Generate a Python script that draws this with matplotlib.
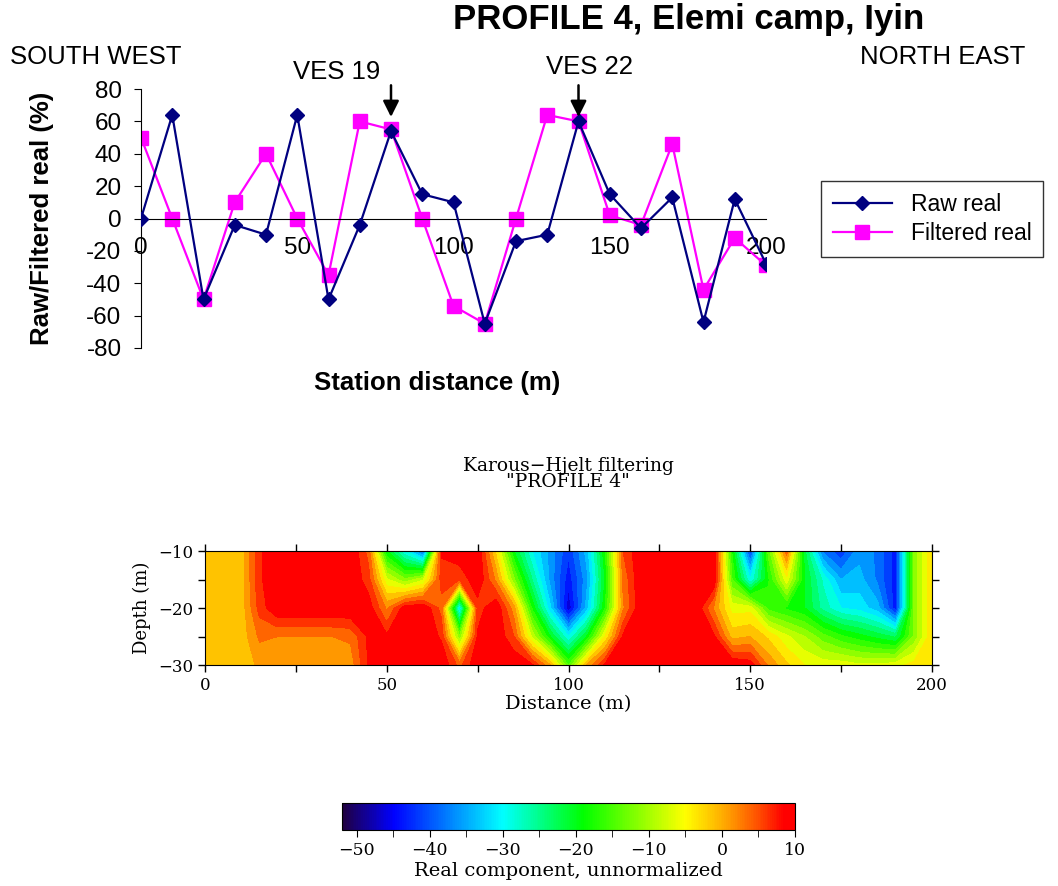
import numpy as np
import matplotlib
matplotlib.use("Agg")
import matplotlib.pyplot as plt
from matplotlib.colors import LinearSegmentedColormap, Normalize
from matplotlib.cm import ScalarMappable

plt.rcParams["axes.unicode_minus"] = False

# station profile (top chart)
stations = [0, 10, 20, 30, 40, 50, 60, 70, 80, 90, 100,
            110, 120, 130, 140, 150, 160, 170, 180, 190, 200]
raw_real = [0, 64, -50, -4, -10, 64, -50, -4, 54, 15, 10,
            -65, -14, -10, 60, 15, -6, 13, -64, 12, -28]
filtered_real = [50, 0, -50, 10, 40, 0, -35, 60, 55, 0, -54,
                 -65, 0, 64, 60, 2, -4, 46, -44, -12, -29]

# Karous-Hjelt pseudo-section (bottom chart)
kh_distance = list(range(0, 201, 5))
kh_depth = [-10, -15, -20, -25, -30]
kh_d10 = [-2, -2, -1.5, 7, 10, 10, 10, 10, 10, 4, -20, -30, -40, 8, 10, 10, -3, -20, -30, -36, -42,
          -34, -18, 5, 10, 10, 10, 10, 10, -18, -42, -14, 4, -22, -38, -42, -36, -38, -44, -12, -3]
kh_d15 = [-2, -2, -1.5, 7, 10, 10, 10, 10, 10, 6, -7, -12, -8, 6, 5, 10, 2, -12, -25, -36, -44,
          -36, -20, 3, 10, 10, 10, 10, 10, -15, -30, -18, -6, -20, -28, -35, -34, -38, -44, -12, -3]
kh_d20 = [-2, -2, -1.5, 6, 10, 10, 10, 10, 10, 9, 2, 9, 10, 4, -32, 6, 10, 1, -18, -32, -47,
          -34, -18, 2, 10, 10, 10, 10, 2, -6, -6, -16, -18, -20, -26, -30, -31, -34, -44, -12, -3]
kh_d25 = [-2, -2, -1.5, 3, 2.5, 2.5, 2.5, 2.5, 3, 8, 8, 10, 10, 7, -12, 8, 10, 5, -8, -20, -30,
          -20, -5, 8, 10, 10, 10, 10, 8, -1, 0, -3, -7, -10, -14, -17, -19, -21, -23, -12, -3]
kh_d30 = [-2, -2, -1.5, 0.5, 1, 1, 1, 1, 1, 8, 10, 10, 10, 10, 4, 10, 10, 10, 8, 0, -15,
          0, 8, 10, 10, 10, 10, 10, 10, 10, 9, 2, -2, -5, -6, -6, -7, -7, -6, -4, -3]

cbar_ticks = [-50, -40, -30, -20, -10, 0, 10]

W, H = 1058, 886
fig = plt.figure(figsize=(W / 100, H / 100), dpi=100)
sans = "Liberation Sans"
serif = "DejaVu Serif"

# ---------- top: raw / filtered real ----------
ax = fig.add_axes([141 / W, 1 - 348 / H, (766 - 141) / W, (348 - 89) / H])
ax.plot(stations, raw_real, color="#000080", lw=1.6, marker="D", ms=7.5,
        label="Raw real", zorder=3)
ax.plot(stations, filtered_real, color="#ff00ff", lw=1.6, marker="s", ms=10,
        label="Filtered real", zorder=2)
ax.set_xlim(0, 200)
ax.set_ylim(-80, 80)
ax.set_yticks(range(-80, 81, 20))
ax.set_xticks([0, 50, 100, 150, 200])
ax.spines["top"].set_visible(False)
ax.spines["right"].set_visible(False)
ax.spines["bottom"].set_position(("data", 0))
ax.tick_params(axis="x", length=0, labelsize=17.5, pad=13)
ax.tick_params(axis="y", length=5, labelsize=17.5, direction="out", pad=9)
for t in ax.get_xticklabels() + ax.get_yticklabels():
    t.set_family(sans)
ax.set_ylabel("Raw/Filtered real (%)", fontsize=18.5, fontweight="bold", family=sans)
ax.yaxis.set_label_coords((54 - 141) / 625, 0.5)
fig.text(437 / W, 1 - 383 / H, "Station distance (m)", fontsize=18.5, fontweight="bold",
         family=sans, ha="center", va="center")

fig.legend(loc="center", bbox_to_anchor=(932 / W, 1 - 219 / H),
           prop={"family": sans, "size": 16.5}, frameon=True,
           fancybox=False, edgecolor="black", borderpad=0.5, handlelength=2.6,
           labelspacing=0.3, borderaxespad=0)

fig.text(689 / W, 1 - 20 / H, "PROFILE 4, Elemi camp, Iyin", fontsize=25, fontweight="bold",
         family=sans, ha="center", va="center")
fig.text(96 / W, 1 - 57 / H, "SOUTH WEST", fontsize=18.5, family=sans,
         ha="center", va="center")
fig.text(943 / W, 1 - 57 / H, "NORTH EAST", fontsize=18.5, family=sans,
         ha="center", va="center")
fig.text(337 / W, 1 - 72 / H, "VES 19", fontsize=18.5, family=sans,
         ha="center", va="center")
fig.text(590 / W, 1 - 67 / H, "VES 22", fontsize=18.5, family=sans,
         ha="center", va="center")
for xs in (80, 140):
    ax.annotate("", xy=(xs, 61), xytext=(xs, 84), xycoords="data", textcoords="data",
                annotation_clip=False,
                arrowprops=dict(arrowstyle="-|>", color="black", lw=1.8, mutation_scale=24))

# ---------- bottom: Karous-Hjelt contour ----------
cmap = LinearSegmentedColormap.from_list("kh", [
    (0.0, "#200040"),
    ((-45 + 52) / 62, "#0000ff"),
    ((-30 + 52) / 62, "#00ffff"),
    ((-19 + 52) / 62, "#00ff00"),
    ((-5 + 52) / 62, "#ffff00"),
    ((0 + 52) / 62, "#ffb000"),
    ((5 + 52) / 62, "#ff5000"),
    ((8.5 + 52) / 62, "#ff0000"),
    (1.0, "#ff0000"),
])
norm = Normalize(vmin=-52, vmax=10)

Z = np.array([kh_d10, kh_d15, kh_d20, kh_d25, kh_d30])
X, Y = np.meshgrid(kh_distance, kh_depth)

ax2 = fig.add_axes([205 / W, 1 - 665 / H, (932 - 205) / W, (665 - 551) / H])
levels = np.arange(-52.5, 10.01, 2.5)
ax2.contourf(X, Y, Z, levels=levels, cmap=cmap, norm=norm, extend="both")
ax2.set_xlim(0, 200)
ax2.set_ylim(-30, -10)
ax2.set_xticks([0, 50, 100, 150, 200])
ax2.set_xticks([25, 75, 125, 175], minor=True)
ax2.set_yticks([-30, -20, -10])
ax2.set_yticklabels(["\u221230", "\u221220", "\u221210"])
ax2.set_yticks([-25, -15], minor=True)
ax2.tick_params(which="both", direction="out", top=True, right=True, labelsize=12,
                length=5, width=1)
for t in ax2.get_xticklabels() + ax2.get_yticklabels():
    t.set_family(serif)
ax2.set_xlabel("Distance (m)", fontsize=14, family=serif, labelpad=1)
ax2.set_ylabel("Depth (m)", fontsize=13, family=serif, labelpad=5)
fig.text(568 / W, 1 - 474 / H, "Karous\u2212Hjelt filtering\n\"PROFILE 4\"", fontsize=13.5,
         family=serif, ha="center", va="center", linespacing=0.9)

cax = fig.add_axes([342 / W, 1 - 830 / H, (795 - 342) / W, (830 - 803) / H])
cb = fig.colorbar(ScalarMappable(norm=norm, cmap=cmap), cax=cax, orientation="horizontal")
cb.set_ticks(cbar_ticks)
cb.set_ticklabels([str(v).replace("-", "\u2212") for v in cbar_ticks])
cb.ax.set_xticks(range(-45, 10, 10), minor=True)
cb.ax.tick_params(which="both", direction="out", labelsize=12.5, length=5)
cb.outline.set_linewidth(0.8)
for t in cb.ax.get_xticklabels():
    t.set_family(serif)
cb.set_label("Real component, unnormalized", fontsize=14, family=serif, labelpad=2)

fig.savefig("out.png", dpi=100)
